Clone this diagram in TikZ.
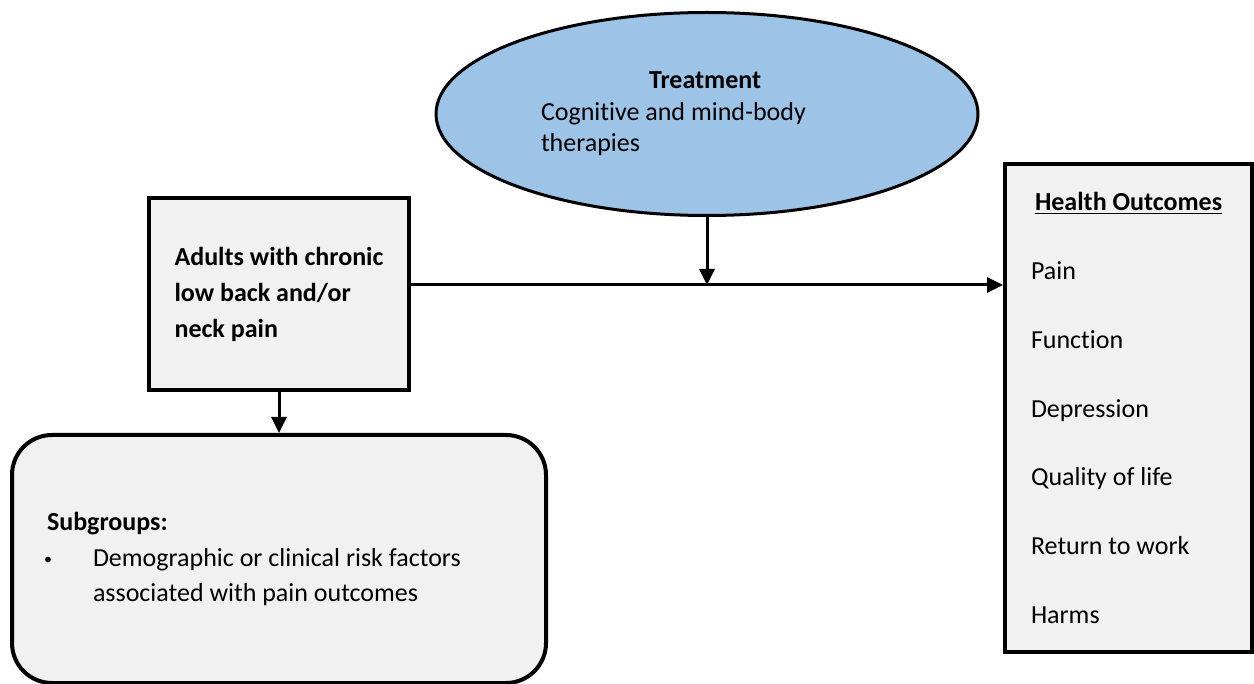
\documentclass[tikz,border=0pt]{standalone}
\usepackage{fontspec}
\setmainfont{Carlito}[Ligatures=NoCommon]
\usetikzlibrary{positioning,shapes,arrows.meta}
\definecolor{boxgray}{HTML}{F1F1F1}
\definecolor{treatblue}{HTML}{9DC3E6}

\begin{document}
\begin{tikzpicture}
	[x=0.5pt, y=-0.5pt,
	font=\fontsize{13}{18}\selectfont,
	box/.style={rectangle, draw=black, line width=2pt, fill=boxgray,
		align=flush left, inner ysep=0pt},
	link/.style={draw=black, line width=1.5pt,
		-{Triangle[length=8pt,width=7.5pt]}},
	]
	\useasboundingbox (0,0) rectangle (1254,684);
	
	% treatment
	\node[ellipse, draw=black, line width=1.5pt, fill=treatblue,
		minimum width=271pt, minimum height=101.5pt, inner sep=2pt,
		text width=166pt, align=flush left,
		font=\fontsize{13}{15.75}\selectfont] (treat) at (707,114)
		{\hspace*{54pt}\textbf{Treatment}\\
		 Cognitive and mind-body\\
		 therapies};
	
	% population
	\node[box, minimum width=130pt, minimum height=96pt,
		font=\bfseries\fontsize{13}{18}\selectfont]
		(adults) at (279,294)
		{Adults with chronic\\ low back and/or\\ neck pain};
	
	\node[box, rounded corners=20pt, minimum width=267pt, minimum height=124pt,
		inner xsep=17.5pt, text width=232pt,
		font=\fontsize{13}{17.75}\selectfont] (subgroups) at (279,559)
		{\textbf{Subgroups:}\\
		 \makebox[23pt][l]{\hspace*{-1.5pt}\raisebox{1pt}{\fontsize{8}{8}\selectfont\textbullet}}Demographic or clinical risk factors\\
		 \hspace*{23pt}associated with pain outcomes};
	
	% outcomes
	\node[box, minimum width=123.5pt, minimum height=243.5pt, inner xsep=13pt,
		text width=97.5pt, font=\fontsize{13}{34.4}\selectfont]
		(outcomes) at (1128.5,408)
		{\hspace*{2pt}\textbf{\underline{Health Outcomes}}\\
		 Pain\\ Function\\ Depression\\ Quality of life\\
		 Return to work\\ Harms};
	
	\coordinate (mid) at (707,285);
	
	\draw[link] (adults.east |- mid) -- (outcomes.west |- mid);
	\draw[link] (treat.south) -- (mid);
	\draw[link] (adults.south) -- (adults.south |- subgroups.north);
	
\end{tikzpicture}
\end{document}
